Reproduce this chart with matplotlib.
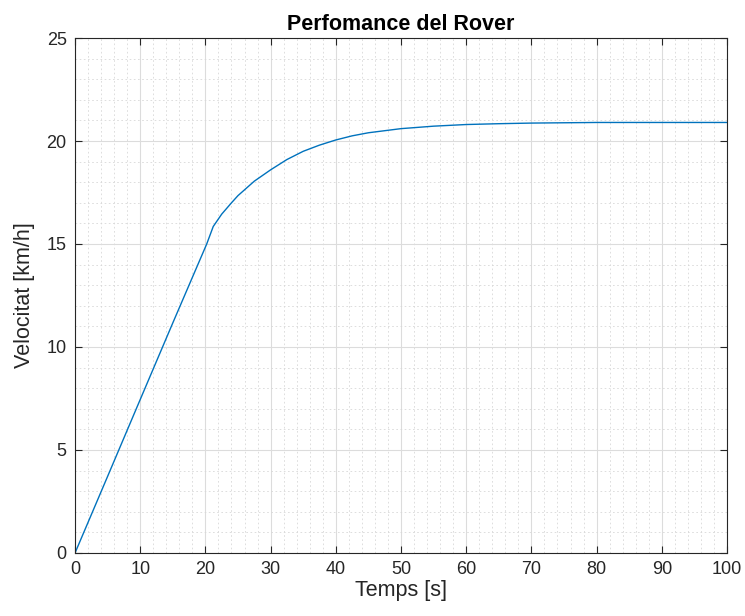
import matplotlib
matplotlib.use('Agg')
from matplotlib import pyplot as plt
from matplotlib.ticker import MultipleLocator

plt.rcParams['font.family'] = ['Liberation Sans', 'DejaVu Sans']

# temps [s] i velocitat [km/h] llegits del grafic
temps = [0, 5, 10, 15, 20.2, 21.2, 22.5, 24, 25, 27.5, 30, 32.5, 35, 37.5, 40,
         42.5, 45, 50, 55, 60, 65, 70, 80, 90, 100]
velocitat = [0, 3.72, 7.45, 11.17, 15.0, 15.85, 16.45, 17.0, 17.35, 18.05,
             18.6, 19.1, 19.5, 19.8, 20.05, 20.25, 20.4, 20.6, 20.72, 20.8,
             20.84, 20.87, 20.9, 20.9, 20.9]

fig = plt.figure(figsize=(7.45, 6.16), dpi=100)
ax = fig.add_axes([0.1007, 0.1023, 0.8751, 0.836])

ax.plot(temps, velocitat, color='#0072BD', lw=1.0)

ax.set_xlim(0, 100)
ax.set_ylim(0, 25)
ax.xaxis.set_major_locator(MultipleLocator(10))
ax.xaxis.set_minor_locator(MultipleLocator(2))
ax.yaxis.set_major_locator(MultipleLocator(5))
ax.yaxis.set_minor_locator(MultipleLocator(1))

ax.grid(which='major', color='#dcdcdc', lw=0.8)
ax.grid(which='minor', color='#d8d8d8', lw=0.6, ls=(0, (2, 3)))
ax.set_axisbelow(True)

for s in ax.spines.values():
    s.set_color('#262626')
    s.set_linewidth(0.8)

ax.tick_params(which='major', direction='in', length=5, top=True, right=True,
               color='#262626', labelcolor='#262626', labelsize=13, pad=6)
ax.tick_params(which='minor', length=0)

ax.set_title('Perfomance del Rover', fontsize=15.5, fontweight='bold', pad=6)
ax.set_xlabel('Temps [s]', fontsize=15.5, color='#262626', labelpad=1)
ax.set_ylabel('Velocitat [km/h]', fontsize=15.5, color='#262626', labelpad=8)

fig.savefig('out.png', dpi=100)
